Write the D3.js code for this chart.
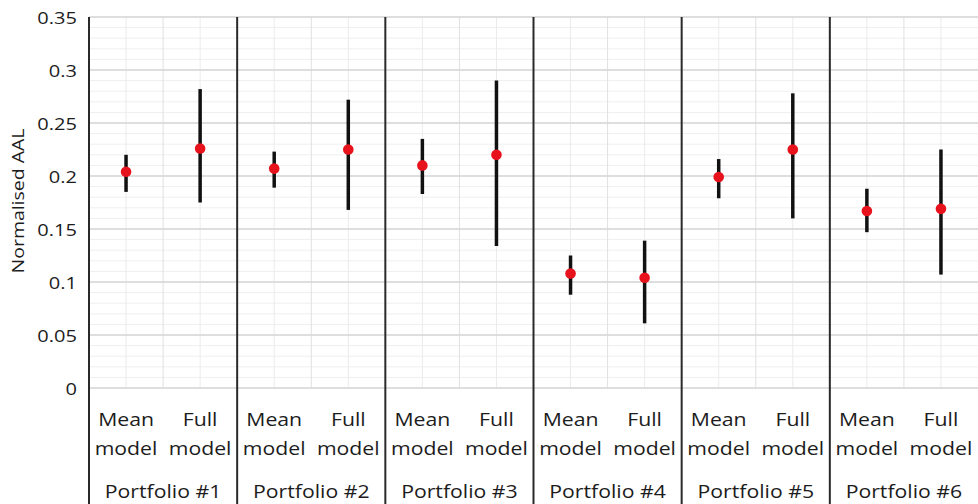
<!DOCTYPE html>
<html>
<head>
<meta charset="utf-8">
<script src="https://cdn.jsdelivr.net/npm/d3@7"></script>
<style>
  html, body { margin: 0; padding: 0; background: #fff; }
  svg { display: block; font-family: "Open Sans", "Noto Sans", sans-serif; }
</style>
</head>
<body>
<svg id="chart" width="978" height="504"></svg>
<script>
// Portfolios and the two models compared within each
const portfolios = ["Portfolio #1", "Portfolio #2", "Portfolio #3", "Portfolio #4", "Portfolio #5", "Portfolio #6"];
const models = ["Mean model", "Full model"];

// Normalised AAL: central estimate and interval, in portfolio order
const meanCentre = [0.204, 0.207, 0.210, 0.108, 0.199, 0.167];
const meanLow    = [0.185, 0.189, 0.183, 0.088, 0.179, 0.147];
const meanHigh   = [0.220, 0.223, 0.235, 0.125, 0.216, 0.188];
const fullCentre = [0.226, 0.225, 0.220, 0.104, 0.225, 0.169];
const fullLow    = [0.175, 0.168, 0.134, 0.061, 0.160, 0.107];
const fullHigh   = [0.282, 0.272, 0.290, 0.139, 0.278, 0.225];

const yTicks = [0, 0.05, 0.1, 0.15, 0.2, 0.25, 0.3, 0.35];
const yLabels = ["0", "0.05", "0.1", "0.15", "0.2", "0.25", "0.3", "0.35"];

// One row per plotted interval
const rows = [];
portfolios.forEach((p, i) => {
  rows.push({ portfolio: p, model: models[0], key: p + "|" + models[0], c: meanCentre[i], lo: meanLow[i], hi: meanHigh[i] });
  rows.push({ portfolio: p, model: models[1], key: p + "|" + models[1], c: fullCentre[i], lo: fullLow[i], hi: fullHigh[i] });
});

const svg = d3.select("#chart");
const plotLeft = 89, plotRight = 978, plotTop = 17, plotBottom = 388;
const textColor = "#1c1c1c";
const stretch = 1.18;   // text is set slightly wide

const x = d3.scaleBand().domain(rows.map(r => r.key)).range([plotLeft, plotRight]).padding(0);
const y = d3.scaleLinear().domain([0, 0.35]).range([plotBottom, plotTop]);
const bw = x.bandwidth();

// Draw a widened text label anchored at (tx, ty)
function label(g, tx, ty, str, opts = {}) {
  const rot = opts.rotate ? ` rotate(${opts.rotate})` : "";
  return g.append("text")
    .attr("transform", `translate(${tx},${ty})${rot} scale(${stretch},1)`)
    .attr("text-anchor", opts.anchor || "middle")
    .attr("dominant-baseline", opts.baseline || "auto")
    .attr("font-size", opts.size || 18)
    .attr("fill", textColor)
    .text(str);
}

// Minor horizontal grid every 0.01
const minor = d3.range(0, 0.3501, 0.01);
svg.append("g").selectAll("line").data(minor).join("line")
  .attr("x1", plotLeft).attr("x2", plotRight)
  .attr("y1", d => y(d)).attr("y2", d => y(d))
  .attr("stroke", "#efefef").attr("stroke-width", 1);

// Vertical grid at category centres and boundaries
const vCentres = rows.map(r => x(r.key) + bw / 2);
const vEdges = rows.map(r => x(r.key));
svg.append("g").selectAll("line").data(vCentres).join("line")
  .attr("x1", d => d).attr("x2", d => d)
  .attr("y1", plotTop).attr("y2", plotBottom)
  .attr("stroke", "#ebebeb").attr("stroke-width", 1);
svg.append("g").selectAll("line").data(vEdges).join("line")
  .attr("x1", d => d).attr("x2", d => d)
  .attr("y1", plotTop).attr("y2", plotBottom)
  .attr("stroke", "#e0e0e0").attr("stroke-width", 1);

// Major horizontal grid
svg.append("g").selectAll("line").data(yTicks).join("line")
  .attr("x1", plotLeft).attr("x2", plotRight)
  .attr("y1", d => y(d)).attr("y2", d => y(d))
  .attr("stroke", "#d6d6d6").attr("stroke-width", 1.3);

// Y axis tick labels
const ya = svg.append("g");
yTicks.forEach((t, i) => label(ya, 77, y(t), yLabels[i], { anchor: "end", baseline: "central", size: 17 }));

// Axis title
label(svg.append("g"), 18, 201, "Normalised AAL", { rotate: -90, baseline: "central", size: 16.5 });

// Portfolio separators (dark lines running through the label area)
const groupEdges = portfolios.map(p => x(p + "|" + models[0]));
svg.append("g").selectAll("line").data(groupEdges).join("line")
  .attr("x1", d => d).attr("x2", d => d)
  .attr("y1", plotTop).attr("y2", 504)
  .attr("stroke", "#2a2a2a").attr("stroke-width", 2);

// Error bars
svg.append("g").selectAll("line").data(rows).join("line")
  .attr("x1", r => x(r.key) + bw / 2).attr("x2", r => x(r.key) + bw / 2)
  .attr("y1", r => y(r.lo)).attr("y2", r => y(r.hi))
  .attr("stroke", "#111").attr("stroke-width", 3.5);

// Central estimates
svg.append("g").selectAll("circle").data(rows).join("circle")
  .attr("cx", r => x(r.key) + bw / 2).attr("cy", r => y(r.c))
  .attr("r", 5.3).attr("fill", "#e8121c");

// Model labels (two lines)
const ml = svg.append("g");
rows.forEach(r => {
  const parts = r.model.split(" ");
  const cx = x(r.key) + bw / 2;
  label(ml, cx, 426, parts[0]);
  label(ml, cx, 455, parts[1]);
});

// Portfolio labels
const pl = svg.append("g");
portfolios.forEach(p => label(pl, x(p + "|" + models[0]) + bw, 498, p));
</script>
</body>
</html>
